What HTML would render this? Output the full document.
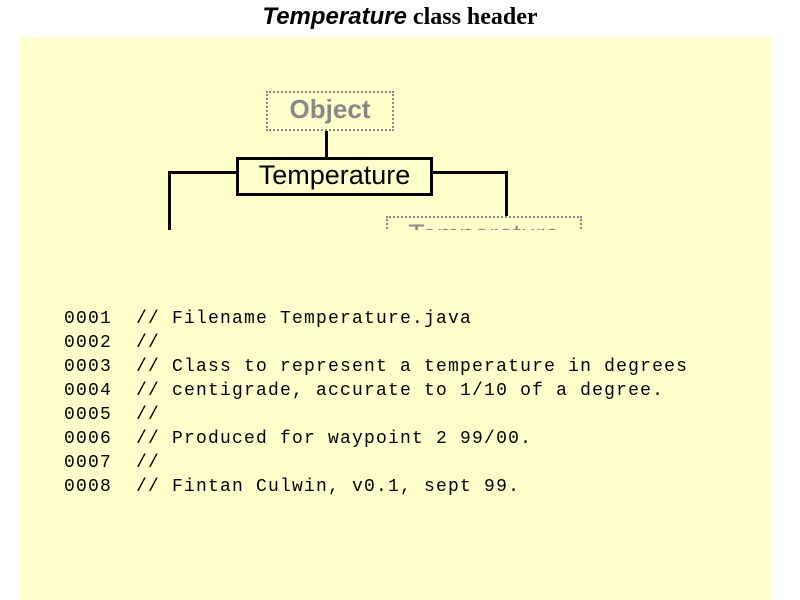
<!DOCTYPE html>
<html><head><style>
html,body{margin:0;padding:0;background:#fff;width:800px;height:600px;overflow:hidden;position:relative}
.panel{position:absolute;left:20px;top:37px;width:752px;height:563px;background:#ffffcc}
.title{position:absolute;left:0;top:3px;width:800px;text-align:center;font:bold 24px "Liberation Serif",serif;color:#000}
.title i{font-family:"Liberation Sans",sans-serif}
.box{position:absolute;box-sizing:border-box;font-family:"Liberation Sans",sans-serif;text-align:center}
.code{position:absolute;left:64px;top:307px;font:18px/24px "Liberation Mono",monospace;letter-spacing:1.2px;white-space:pre;color:#000}
.l{position:absolute;background:#000}
</style></head><body>
<div class="title"><i>Temperature</i> class header</div>
<div class="panel"></div>
<div class="box" style="left:266px;top:91px;width:128px;height:40px;border:2px dotted #888;color:#888;font-weight:bold;font-size:26px;line-height:33px">Object</div>
<div class="l" style="left:325px;top:131px;width:3px;height:27px"></div>
<div class="box" style="left:236px;top:157px;width:197px;height:39px;border:3px solid #000;color:#000;font-size:27px;line-height:31px">Temperature</div>
<div class="l" style="left:168px;top:171px;width:68px;height:3px"></div>
<div class="l" style="left:168px;top:171px;width:3px;height:59px"></div>
<div class="l" style="left:433px;top:171px;width:75px;height:3px"></div>
<div class="l" style="left:505px;top:171px;width:3px;height:45px"></div>
<div style="position:absolute;left:386px;top:216px;width:196px;height:14px;overflow:hidden">
<div class="box" style="left:0;top:0;width:196px;height:40px;border:2px dotted #888;color:#888;font-size:27px;line-height:32px">Temperature</div></div>
<div class="code">0001  // Filename Temperature.java
0002  //
0003  // Class to represent a temperature in degrees
0004  // centigrade, accurate to 1/10 of a degree.
0005  //
0006  // Produced for waypoint 2 99/00.
0007  //
0008  // Fintan Culwin, v0.1, sept 99.</div>
</body></html>
